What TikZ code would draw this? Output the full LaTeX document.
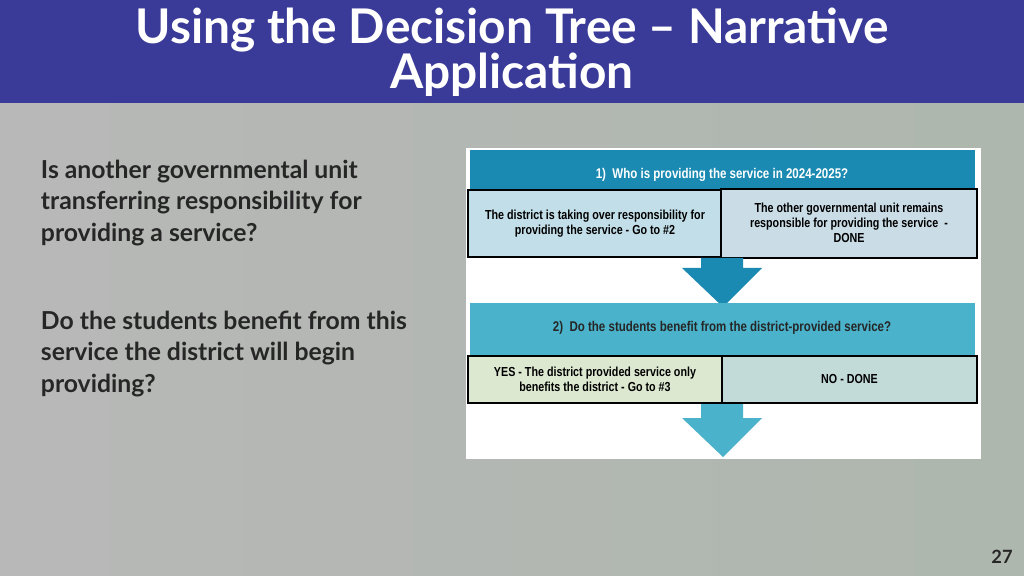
\documentclass[tikz,border=0pt]{standalone}
\usepackage{fontspec}
\setmainfont{Lato}
\newfontfamily\panelfont[FakeStretch=0.82]{Liberation Sans}
\usetikzlibrary{positioning}
\definecolor{titleblue}{HTML}{3A3A98}
\definecolor{teal1}{HTML}{1A8AB2}
\definecolor{teal2}{HTML}{4AB2CA}
\definecolor{boxA}{HTML}{C2DEE8}
\definecolor{boxB}{HTML}{CADCE6}
\definecolor{boxC}{HTML}{DCE8D0}
\definecolor{boxD}{HTML}{C2DAD8}
\tikzset{
  bartext/.style={font=\panelfont\bfseries\fontsize{10}{11}\selectfont},
  choice/.style={align=center, font=\panelfont\bfseries\fontsize{9.3}{10.5}\selectfont, inner sep=1pt},
  bodytext/.style={anchor=west, align=left, font=\bfseries\fontsize{17.6}{22.5}\selectfont, text=black!85}
}
\begin{document}
\begin{tikzpicture}[x=0.025cm, y=-0.025cm]
\useasboundingbox (0,0) rectangle (1024,576);
% background
\shade[left color=black!28, right color=green!12!black!32] (0,0) rectangle (1024,576);
\fill[titleblue] (0,0) rectangle (1024,103);
\node[text=white, font=\bfseries\fontsize{34}{32}\selectfont, align=center] (title) at (512,52)
  {Using the Decision Tree -- Narrative\\Application};

% left text
\node[bodytext] (q1) at (36,203) {Is another governmental unit\\transferring responsibility for\\providing a service?};
\node[bodytext] (q2) at (36,354) {Do the students benefit from this\\service the district will begin\\providing?};

% panel
\fill[white] (466,148) rectangle (981,459);
% step 1
\fill[teal1] (470,150) rectangle (975,190);
\node[bartext, text=white] (s1) at (722,175) {1)\ \ Who is providing the service in 2024-2025?};
\draw[fill=boxA, line width=0.9pt] (468,190) rectangle (721,257);
\node[choice] (a1) at (595,224) {The district is taking over responsibility for\\providing the service - Go to \#2};
\draw[fill=boxB, line width=0.9pt] (721,189) rectangle (977,258);
\node[choice] (b1) at (849,223) {The other governmental unit remains\\responsible for providing the service\ \ -\\DONE};
\fill[teal1] (701,258) -- (743,258) -- (743,268) -- (762,268) -- (723,307) -- (682,268) -- (701,268) -- cycle;
% step 2
\fill[teal2] (470,303) rectangle (975,355);
\node[bartext, text=black!85] (s2) at (722,328) {2)\ \ Do the students benefit from the district-provided service?};
\draw[fill=boxC, line width=0.9pt] (468,356) rectangle (722,403);
\node[choice] (a2) at (595,379) {YES - The district provided service only\\benefits the district - Go to \#3};
\draw[fill=boxD, line width=0.9pt] (722,356) rectangle (977,403);
\node[choice] (b2) at (849.5,379) {NO - DONE};
\fill[teal2] (701,404) -- (743,404) -- (743,418) -- (762,418) -- (723,457) -- (682,418) -- (701,418) -- cycle;

% page number
\node[font=\bfseries\fontsize{13}{15}\selectfont, text=black!85] (pg) at (1002,557) {27};
\end{tikzpicture}
\end{document}
